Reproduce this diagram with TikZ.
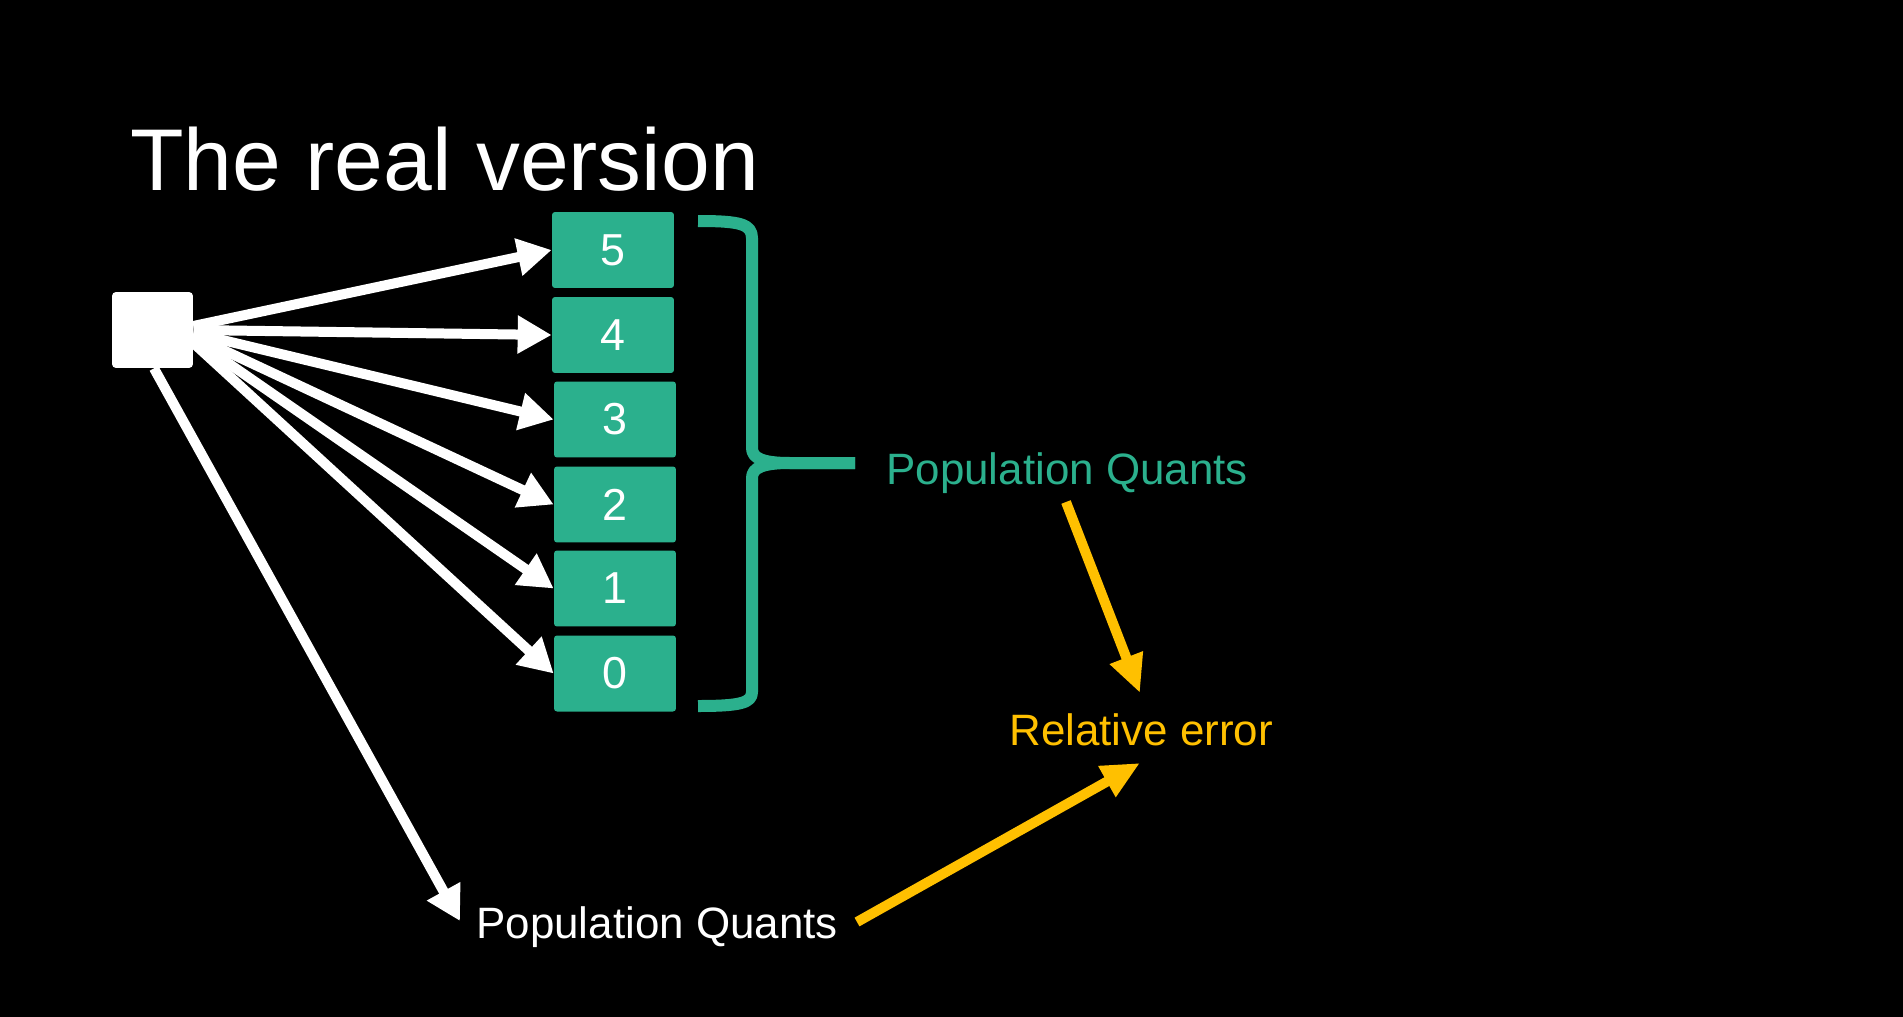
\documentclass[tikz,border=0pt]{standalone}
\usepackage{fontspec}
\setmainfont{Liberation Sans}
\usetikzlibrary{arrows.meta}
\definecolor{qgreen}{RGB}{43,176,141}
\definecolor{qyellow}{RGB}{255,192,0}
\begin{document}
\begin{tikzpicture}[x=0.02cm,y=-0.02cm,
  lbl/.style={font=\fontsize{25pt}{28pt}\selectfont, inner sep=0, anchor=base west},
  qbox/.style={fill=qgreen, rounded corners=0.06cm, minimum width=2.44cm, minimum height=1.52cm, inner sep=0, text=white, font=\fontsize{25.5pt}{28pt}\selectfont},
  warrow/.style={draw=white, line width=0.2cm, -{Triangle[length=0.68cm,width=0.72cm]}},
  yarrow/.style={draw=qyellow, line width=0.2cm, -{Triangle[length=0.76cm,width=0.66cm]}},
  bracestyle/.style={draw=qgreen, line width=0.24cm, line join=round}]
\fill[black] (0,0) rectangle (1903,1017);
\useasboundingbox (0,0) rectangle (1903,1017);

% title
\node[lbl, text=white, font=\fontsize{49.9pt}{55pt}\selectfont] (title) at (130,190) {The real version};

% source square
\node[fill=white, rounded corners=0.08cm, minimum width=1.62cm, minimum height=1.52cm, inner sep=0] (sq) at (152.5,330) {};

% quant boxes
\node[qbox] (b5) at (613,250) {5};
\node[qbox] (b4) at (613,335) {4};
\node[qbox] (b3) at (615,419.5) {3};
\node[qbox] (b2) at (615,504.5) {2};
\node[qbox] (b1) at (615,588.5) {1};
\node[qbox] (b0) at (615,673.5) {0};

% arrows from square
\draw[warrow] ([yshift=0.08cm]sq.east) -- (b5.west);
\draw[warrow] (sq.east) -- (b4.west);
\draw[warrow] ([yshift=-0.06cm]sq.east) -- (b3.west);
\draw[warrow] ([yshift=-0.12cm]sq.east) -- (b2.west);
\draw[warrow] ([yshift=-0.18cm]sq.east) -- (b1.west);
\draw[warrow] ([yshift=-0.26cm]sq.east) -- (b0.west);

% labels
\node[lbl, text=qgreen] (gq) at (886,484) {Population Quants};
\node[lbl, text=white] (wq) at (476,938) {Population Quants};
\node[lbl, text=qyellow] (re) at (1009,745) {Relative error};

% long white arrow
\coordinate (wtip) at (460,921);
\draw[warrow] ([xshift=0.03cm]sq.south) -- (wtip);

% brace
\draw[bracestyle] (698,221) .. controls (740,221) and (752,224) .. (752,238) -- (752,448)
  .. controls (752,458) and (762,463) .. (790,463) -- (855,463);
\draw[bracestyle] (855,463) -- (790,463) .. controls (762,463) and (752,468) .. (752,478)
  -- (752,692) .. controls (752,703) and (740,706) .. (698,706);

% yellow arrows
\coordinate (y1s) at (1066,502);
\coordinate (y1e) at (1140,693);
\coordinate (y2s) at (857,922);
\coordinate (y2e) at (1140,763);
\draw[yarrow] (y1s) -- (y1e);
\draw[yarrow] (y2s) -- (y2e);
\end{tikzpicture}
\end{document}
